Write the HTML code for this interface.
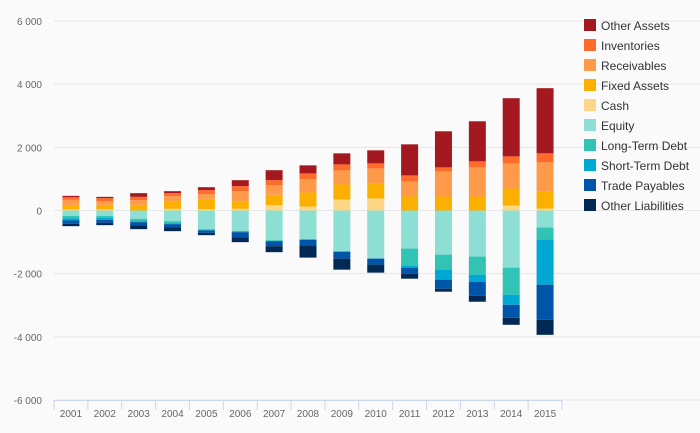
<!DOCTYPE html>
<html><head><meta charset="utf-8"><style>
body{margin:0;background:#fafafa;font-family:"Liberation Sans",sans-serif;}
svg{display:block}
</style></head><body>
<svg id="chart" width="700" height="433">
<rect width="700" height="433" fill="#fafafa"/>
</svg>
<script>
const years=["2001","2002","2003","2004","2005","2006","2007","2008","2009","2010","2011","2012","2013","2014","2015"];
const cash=[32,32,0,53,42,53,169,127,349,381,0,0,0,159,63];
const fixedAssets=[147,147,179,242,327,242,327,444,476,487,444,444,444,539,551];
const receivables=[159,116,148,159,148,317,306,424,445,465,477,794,921,794,910];
const inventories=[84,95,105,95,126,158,158,180,190,159,190,127,191,222,286];
const otherAssets=[42,42,117,63,95,190,316,254,350,413,984,1143,1269,1842,2063];
const equity=[169,169,264,338,591,654,939,921,1302,1524,1206,1397,1460,1810,540];
const longTermDebt=[84,63,84,63,31,0,31,0,0,0,540,476,572,857,381];
const shortTermDebt=[63,63,21,31,10,32,0,0,0,0,64,317,222,317,1428];
const tradePayables=[106,95,95,95,75,158,159,190,222,190,190,286,444,413,1111];
const otherLiabilities=[74,74,127,127,74,158,190,381,349,254,159,95,191,222,477];
const yTicks=[6000,4000,2000,0,-2000,-4000,-6000];
const yTickLabels=["6 000","4 000","2 000","0","-2 000","-4 000","-6 000"];

const svg=document.getElementById('chart');
const NS='http://www.w3.org/2000/svg';
const top0=21,bot0=400,left0=54,right0=562;
function y(v){return top0+(6000-v)/12000*(bot0-top0);}
const band=(right0-left0)/years.length;
function x(i){return left0+band*i+band/2;}
function mk(t,a){const e=document.createElementNS(NS,t);for(const k in a)e.setAttribute(k,a[k]);svg.appendChild(e);return e;}

yTicks.forEach((t,i)=>{
  const g=mk('line',{x1:left0,x2:700,y1:y(t),y2:y(t),stroke:'#e6e6e6','stroke-width':1});
  
  
  const l=mk('text',{x:42,y:y(t)+4,'text-anchor':'end','font-size':10,fill:'#666'});
  l.textContent=yTickLabels[i];
  
  
});
const ax=mk('line',{x1:left0,x2:right0,y1:bot0+0.5,y2:bot0+0.5,stroke:'#ccd6eb'});


for(let i=0;i<=years.length;i++){
  const tk=mk('line',{x1:left0+band*i,x2:left0+band*i,y1:bot0,y2:bot0+10,stroke:'#ccd6eb'});
  
  
}
years.forEach((yr,i)=>{
  const t=mk('text',{x:x(i),y:417,'text-anchor':'middle','font-size':10,fill:'#666'});
  t.textContent=yr;
  
  
});

const pos=[["Cash",cash,"#fdd785"],["Fixed Assets",fixedAssets,"#fbb000"],["Receivables",receivables,"#ff9a4a"],["Inventories",inventories,"#ff6b2b"],["Other Assets",otherAssets,"#a3191f"]];
const neg=[["Equity",equity,"#8ddfd4"],["Long-Term Debt",longTermDebt,"#31c3b3"],["Short-Term Debt",shortTermDebt,"#00a8d4"],["Trade Payables",tradePayables,"#0055a8"],["Other Liabilities",otherLiabilities,"#002a54"]];
const bw=17;
years.forEach((yr,i)=>{
  let acc=0;
  pos.forEach(([n,arr,c])=>{
    const v=arr[i];const r=mk('rect',{x:x(i)-bw/2,y:y(acc+v),width:bw,height:y(acc)-y(acc+v),fill:c});
    
    
    acc+=v;
  });
  acc=0;
  neg.forEach(([n,arr,c])=>{
    const v=arr[i];const r=mk('rect',{x:x(i)-bw/2,y:y(acc),width:bw,height:y(acc-v)-y(acc),fill:c});
    
    
    acc-=v;
  });
});

const legend=[["Other Assets","#a3191f"],["Inventories","#ff6b2b"],["Receivables","#ff9a4a"],["Fixed Assets","#fbb000"],["Cash","#fdd785"],["Equity","#8ddfd4"],["Long-Term Debt","#31c3b3"],["Short-Term Debt","#00a8d4"],["Trade Payables","#0055a8"],["Other Liabilities","#002a54"]];
legend.forEach(([n,c],i)=>{
  const cy=25+i*20;
  const s=mk('rect',{x:584,y:cy-6,width:12,height:12,fill:c});
  
  
  const t=mk('text',{x:601,y:cy+5,'font-size':12,fill:'#333'});
  t.textContent=n;
  
  
});
</script>
</body></html>
